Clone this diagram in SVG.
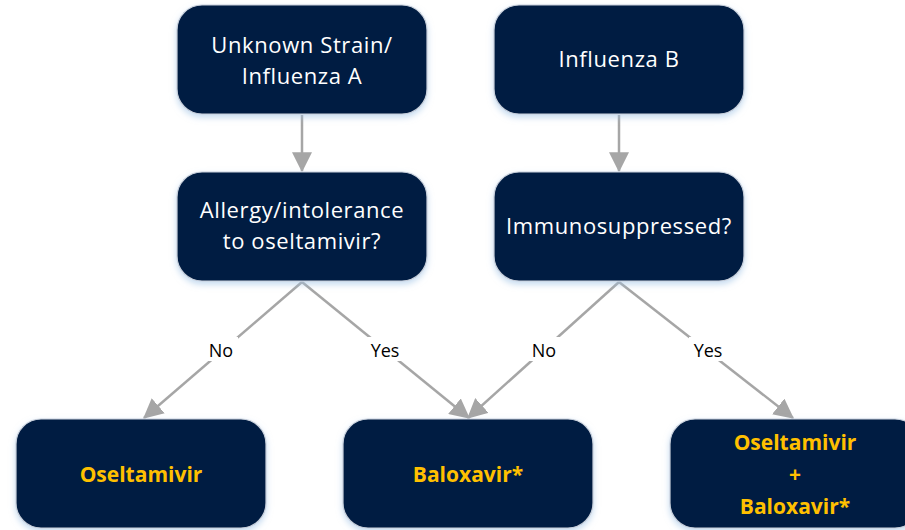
<svg xmlns="http://www.w3.org/2000/svg" width="905" height="530" viewBox="0 0 905 530">
<style>
.box{fill:#041e42;stroke:#c8d0dc;stroke-width:1.2;filter:url(#sh)}
.t{font-family:"Open Sans","Liberation Sans",sans-serif;font-size:22px;letter-spacing:0.6px;fill:#ffffff;text-anchor:middle}
.y{font-family:"Open Sans","Liberation Sans",sans-serif;font-size:21px;font-weight:bold;fill:#ffc000;text-anchor:middle}
.l{font-family:"Open Sans","Liberation Sans",sans-serif;font-size:18px;fill:#000000;text-anchor:middle}
.c{stroke:#a6a6a6;stroke-width:2.5;fill:none;marker-end:url(#ah)}
</style>
<defs>
<filter id="sh" x="-10%" y="-10%" width="120%" height="130%">
<feDropShadow dx="0" dy="3" stdDeviation="3" flood-color="#9fc3e6" flood-opacity="0.6"/>
</filter>
<marker id="ah" markerWidth="8" markerHeight="8" refX="7.5" refY="4" orient="auto" markerUnits="strokeWidth">
<path d="M0,0 L8,4 L0,8 Z" fill="#a6a6a6"/>
</marker>
</defs>
<rect width="905" height="530" fill="#ffffff"/>
<g id="connectors">
<line class="c" x1="302" y1="115" x2="302" y2="171"/>
<line class="c" x1="619" y1="115" x2="619" y2="171"/>
<line class="c" x1="302" y1="282" x2="144" y2="418"/>
<line class="c" x1="302" y1="282" x2="469" y2="418"/>
<line class="c" x1="619" y1="282" x2="468" y2="418"/>
<line class="c" x1="619" y1="282" x2="793" y2="418"/>
<rect x="204" y="337" width="34" height="24" fill="#ffffff"/>
<rect x="366" y="337" width="38" height="24" fill="#ffffff"/>
<rect x="527" y="337" width="34" height="24" fill="#ffffff"/>
<rect x="689" y="337" width="38" height="24" fill="#ffffff"/>
<text class="l" x="221" y="357">No</text>
<text class="l" x="385" y="357">Yes</text>
<text class="l" x="544" y="357">No</text>
<text class="l" x="708" y="357">Yes</text>
</g>
<g id="n1">
<rect class="box" x="177" y="5" width="250" height="109" rx="25"/>
<text class="t" x="302" y="53">Unknown Strain/</text>
<text class="t" x="302" y="84">Influenza A</text>
</g>
<g id="n2">
<rect class="box" x="494" y="5" width="250" height="109" rx="25"/>
<text class="t" x="619" y="67">Influenza B</text>
</g>
<g id="n3">
<rect class="box" x="177" y="172" width="250" height="109" rx="25"/>
<text class="t" x="302" y="218">Allergy/intolerance</text>
<text class="t" x="302" y="249">to oseltamivir?</text>
</g>
<g id="n4">
<rect class="box" x="494" y="172" width="250" height="109" rx="25"/>
<text class="t" x="619" y="234">Immunosuppressed?</text>
</g>
<g id="n5">
<rect class="box" x="16" y="419" width="250" height="109" rx="25"/>
<text class="y" x="141" y="482">Oseltamivir</text>
</g>
<g id="n6">
<rect class="box" x="343" y="419" width="250" height="109" rx="25"/>
<text class="y" x="468" y="482">Baloxavir*</text>
</g>
<g id="n7">
<rect class="box" x="670" y="419" width="250" height="109" rx="25"/>
<text class="y" x="795" y="450">Oseltamivir</text>
<text class="y" x="795" y="482">+</text>
<text class="y" x="795" y="514">Baloxavir*</text>
</g>
</svg>
